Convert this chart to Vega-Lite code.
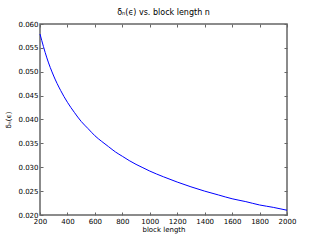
{
  "$schema": "https://vega.github.io/schema/vega-lite/v6.json",
  "autosize": "none",
  "width": 247,
  "height": 191,
  "padding": {"left": 40, "top": 24, "right": 33, "bottom": 25},
  "background": "white",
  "config": {
    "view": {"stroke": "#666666", "strokeWidth": 1.5},
    "font": "DejaVu Sans",
    "axis": {
      "labelFont": "DejaVu Sans",
      "titleFont": "DejaVu Sans",
      "labelFontSize": 7,
      "titleFontSize": 7,
      "labelColor": "#000000",
      "titleColor": "#000000",
      "titleFontWeight": "normal",
      "grid": false,
      "domain": false,
      "tickColor": "#666666",
      "tickSize": -3,
      "labelPadding": 5,
      "labelOverlap": false,
      "labelFlush": false
    },
    "title": {"font": "DejaVu Sans", "fontSize": 8, "fontWeight": "normal", "color": "black", "offset": 3}
  },
  "title": {"text": "δₙ(ϵ) vs. block length n"},
  "data": {
    "values": [
      {"n": 200, "delta": 0.0579},
      {"n": 250, "delta": 0.0529},
      {"n": 300, "delta": 0.0491},
      {"n": 350, "delta": 0.0461},
      {"n": 400, "delta": 0.0436},
      {"n": 450, "delta": 0.0415},
      {"n": 500, "delta": 0.0396},
      {"n": 550, "delta": 0.0381},
      {"n": 600, "delta": 0.0366},
      {"n": 650, "delta": 0.0354},
      {"n": 700, "delta": 0.0343},
      {"n": 750, "delta": 0.0332},
      {"n": 800, "delta": 0.0323},
      {"n": 850, "delta": 0.0314},
      {"n": 900, "delta": 0.0306},
      {"n": 950, "delta": 0.0299},
      {"n": 1000, "delta": 0.0292},
      {"n": 1100, "delta": 0.0280},
      {"n": 1200, "delta": 0.0269},
      {"n": 1300, "delta": 0.0259},
      {"n": 1400, "delta": 0.0250},
      {"n": 1500, "delta": 0.0242},
      {"n": 1600, "delta": 0.0234},
      {"n": 1700, "delta": 0.0228},
      {"n": 1800, "delta": 0.0221},
      {"n": 1900, "delta": 0.0216},
      {"n": 2000, "delta": 0.0210}
    ]
  },
  "layer": [
    {
      "mark": {"type": "line", "color": "#0000ff", "strokeWidth": 1, "interpolate": "monotone"},
      "encoding": {
        "x": {"field": "n", "type": "quantitative", "scale": {"domain": [200, 2000], "nice": false},
          "axis": {"orient": "bottom", "title": "block length", "format": "d", "titleColor": "#000000", "values": [200,400,600,800,1000,1200,1400,1600,1800,2000], "titlePadding": 1}},
        "y": {"field": "delta", "type": "quantitative", "scale": {"domain": [0.02, 0.06], "nice": false, "zero": false},
          "axis": {"orient": "left", "title": "δₙ(ϵ)", "format": ".3f", "titleColor": "#000000", "values": [0.02,0.025,0.03,0.035,0.04,0.045,0.05,0.055,0.06], "titlePadding": 6}}
      }
    },
    {
      "mark": {"type": "line", "opacity": 0},
      "encoding": {
        "x": {"field": "n", "type": "quantitative", "scale": {"domain": [200, 2000], "nice": false},
          "axis": {"orient": "top", "title": null, "labels": false, "values": [200,400,600,800,1000,1200,1400,1600,1800,2000]}},
        "y": {"field": "delta", "type": "quantitative", "scale": {"domain": [0.02, 0.06], "nice": false, "zero": false},
          "axis": {"orient": "right", "title": null, "labels": false, "values": [0.02,0.025,0.03,0.035,0.04,0.045,0.05,0.055,0.06]}}
      }
    }
  ],
  "resolve": {"axis": {"x": "independent", "y": "independent"}}
}
